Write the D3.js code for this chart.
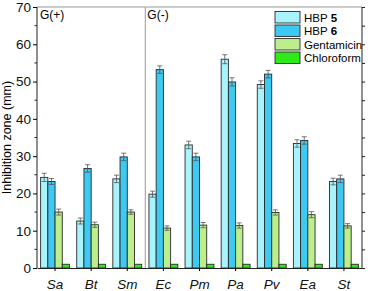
<!DOCTYPE html>
<html>
<head>
<meta charset="utf-8">
<script src="https://cdn.jsdelivr.net/npm/d3@7"></script>
<style>
  body { margin: 0; background: #fff; }
  svg { font-family: "Liberation Sans", Arial, sans-serif; }
</style>
</head>
<body>
<svg id="chart" width="368" height="291"></svg>
<script>
const categories = ["Sa", "Bt", "Sm", "Ec", "Pm", "Pa", "Pv", "Ea", "St"]
const seriesNames = ["HBP 5", "HBP 6", "Gentamicin", "Chloroform"]
const hbp5 = [24.3, 12.6, 23.9, 19.8, 33.0, 56.0, 49.2, 33.4, 23.2]
const hbp6 = [23.2, 26.7, 29.8, 53.2, 29.8, 49.9, 52.0, 34.2, 23.9]
const gentamicin = [15.0, 11.6, 15.0, 10.7, 11.5, 11.4, 14.9, 14.3, 11.3]
const chloroform = [1.0, 1.0, 1.0, 1.0, 1.0, 1.0, 1.0, 1.0, 1.0]
const err5 = [1.1, 0.8, 1.0, 0.8, 1.0, 1.2, 1.0, 1.0, 0.9]
const err6 = [0.8, 1.0, 1.0, 1.0, 1.0, 1.1, 1.0, 1.0, 1.0]
const errG = [0.8, 0.7, 0.6, 0.6, 0.7, 0.7, 0.7, 0.8, 0.6]
const colors = ["#a8f3fc", "#3cc9f2", "#bcef8c", "#2eea18"]

const values = [hbp5, hbp6, gentamicin, chloroform]
const errors = [err5, err6, errG, null]

const svg = d3.select("#chart")
const margin = { top: 7, right: 6, bottom: 23, left: 37 }
const W = 368, H = 291

const x = d3.scaleBand().domain(categories).range([margin.left, W - margin.right]).paddingInner(0.2).paddingOuter(0.1)
const x1 = d3.scaleBand().domain(d3.range(4)).range([0, x.bandwidth()])
const y = d3.scaleLinear().domain([0, 70]).range([H - margin.bottom, margin.top])

// frame
svg.append("line").attr("x1", margin.left).attr("x2", W - margin.right)
  .attr("y1", margin.top).attr("y2", margin.top).attr("stroke", "#999").attr("stroke-width", 1)

// G(+)/G(-) separator
const sepX = (x("Sm") + x.bandwidth() + x("Ec")) / 2
svg.append("line").attr("x1", sepX).attr("x2", sepX)
  .attr("y1", margin.top).attr("y2", y(0)).attr("stroke", "#aaa").attr("stroke-width", 1.2)

svg.append("text").attr("x", margin.left + 3).attr("y", margin.top + 12).attr("font-size", 12).text("G(+)")
svg.append("text").attr("x", sepX + 2).attr("y", margin.top + 12).attr("font-size", 12).text("G(-)")

// bars
const groups = svg.append("g").selectAll("g").data(categories).join("g")
  .attr("transform", (d) => `translate(${x(d)},0)`)

groups.each(function (cat, i) {
  const g = d3.select(this)
  values.forEach((vals, s) => {
    const v = vals[i]
    g.append("rect")
      .attr("x", x1(s))
      .attr("y", y(v))
      .attr("width", x1.bandwidth())
      .attr("height", y(0) - y(v))
      .attr("fill", colors[s])
      .attr("stroke", "#2a2a2a")
      .attr("stroke-width", 0.9)
    if (errors[s]) {
      const cx = x1(s) + x1.bandwidth() / 2
      const e = errors[s][i]
      const eg = g.append("g").attr("stroke", "#555").attr("stroke-width", 0.8)
      eg.append("line").attr("x1", cx).attr("x2", cx).attr("y1", y(v - e)).attr("y2", y(v + e))
      eg.append("line").attr("x1", cx - 2.5).attr("x2", cx + 2.5).attr("y1", y(v + e)).attr("y2", y(v + e))
      eg.append("line").attr("x1", cx - 2.5).attr("x2", cx + 2.5).attr("y1", y(v - e)).attr("y2", y(v - e))
    }
  })
})

// left axis
const yAxis = d3.axisLeft(y).tickValues(d3.range(0, 71, 10)).tickSize(4).tickPadding(2)
const gy = svg.append("g").attr("transform", `translate(${margin.left},0)`).call(yAxis)
gy.selectAll("text").attr("font-size", 13.5).attr("fill", "#111")
gy.select(".domain").attr("stroke", "#222").attr("d", `M0,${y(0)}V${y(70)}`)
gy.append("g").selectAll("line").data(d3.range(5, 70, 10)).join("line")
  .attr("x1", -2.5).attr("x2", 0).attr("y1", (d) => y(d)).attr("y2", (d) => y(d)).attr("stroke", "#222")

// right axis
const gyr = svg.append("g").attr("transform", `translate(${W - margin.right},0)`)
  .call(d3.axisRight(y).tickValues(d3.range(0, 71, 5)).tickSize(3).tickFormat(""))
gyr.select(".domain").attr("stroke", "#222").attr("d", `M0,${y(0)}V${y(70)}`)
gyr.selectAll(".tick line").attr("stroke", "#222")

// bottom axis
const gx = svg.append("g").attr("transform", `translate(0,${y(0)})`)
  .call(d3.axisBottom(x).tickSize(3).tickPadding(8).tickSizeOuter(0))
gx.select(".domain").attr("stroke", "#222")
gx.selectAll("text").attr("font-size", 13.5).attr("font-style", "italic").attr("fill", "#111")

// y title
svg.append("text")
  .attr("transform", `translate(11,${(y(0) + y(70)) / 2}) rotate(-90)`)
  .attr("text-anchor", "middle").attr("font-size", 12.5).text("Inhibition zone (mm)")

// legend
const legend = svg.append("g").attr("transform", "translate(275,11.5)")
seriesNames.forEach((name, s) => {
  const row = legend.append("g").attr("transform", `translate(0,${s * 13.5})`)
  row.append("rect").attr("width", 25).attr("height", 11.5)
    .attr("fill", colors[s]).attr("stroke", "#2a2a2a").attr("stroke-width", 0.9)
  const t = row.append("text").attr("x", 29).attr("y", 10).attr("font-size", 11.5)
  const parts = name.split(" ")
  if (parts[0] === "HBP") {
    t.append("tspan").text("HBP ")
    t.append("tspan").attr("font-weight", "bold").text(parts[1])
  } else {
    t.text(name)
  }
})
</script>
</body>
</html>
